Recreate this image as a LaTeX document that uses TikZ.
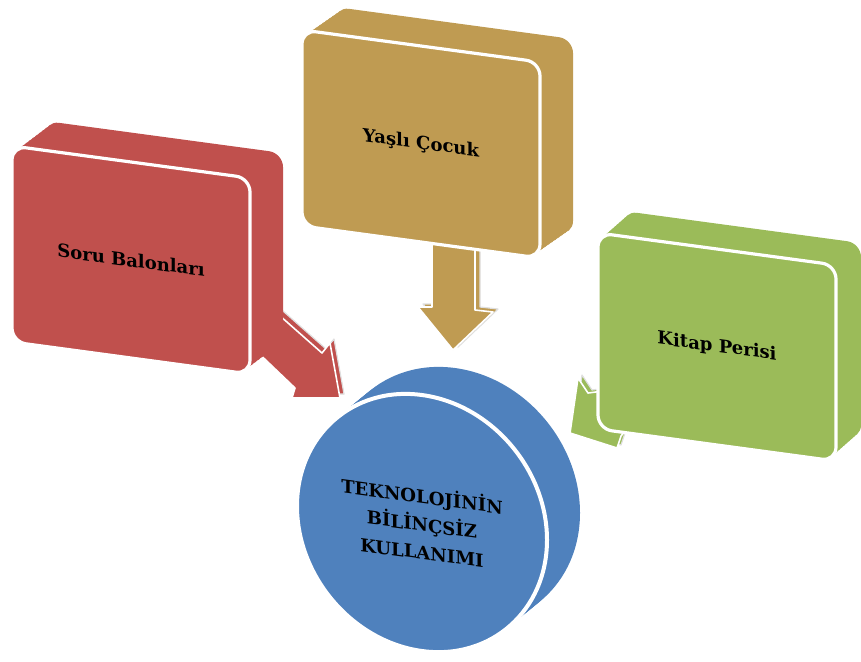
\documentclass[tikz,border=0pt]{standalone}
\usepackage{fontspec}
\setmainfont{DejaVu Serif}
\usetikzlibrary{shapes.geometric}

\definecolor{soruRed}{HTML}{C0504D}
\definecolor{yasliGold}{HTML}{BF9B52}
\definecolor{kitapGreen}{HTML}{9BBB59}
\definecolor{merkezBlue}{HTML}{4F81BD}

\tikzset{
  slab/.style={rectangle, rounded corners=7pt, minimum width=119pt, minimum height=98pt,
    inner sep=0pt, yslant=-0.135},
  face/.style={slab, draw=white, line width=1.6pt, font=\bfseries\fontsize{9}{11}\selectfont},
  disc/.style={ellipse, minimum width=125pt, minimum height=128pt, inner sep=0pt, yslant=-0.135},
  arrowback/.style={draw=gray!25, line width=0.6pt, line join=round},
  arrowfront/.style={draw=white, line width=0.8pt, line join=round},
}

\begin{document}
\begin{tikzpicture}[x=0.5pt, y=-0.5pt]
  \useasboundingbox (0,0) rectangle (861,661);

  % block arrows (under the boxes)
  \fill [soruRed, arrowback, shift={(4,-4)}] (262,300) -- (322,353) -- (330,343) -- (340,398)
    -- (292,398) -- (295,388) -- (250,345) -- cycle;
  \fill [soruRed, arrowfront] (262,300) -- (322,353) -- (330,343) -- (340,398)
    -- (292,398) -- (295,388) -- (250,345) -- cycle;

  \fill [yasliGold, arrowback, shift={(5,-3)}] (432,240) -- (475,240) -- (475,310) -- (493,312)
    -- (453,350) -- (418,307) -- (432,307) -- cycle;
  \fill [yasliGold, arrowfront] (432,240) -- (475,240) -- (475,310) -- (493,312)
    -- (453,350) -- (418,307) -- (432,307) -- cycle;

  \fill [kitapGreen, arrowback, shift={(4,-3)}] (578,378) -- (588,393) -- (650,385) -- (650,400)
    -- (621,436) -- (617,448) -- (570,433) -- cycle;
  \fill [kitapGreen, arrowfront] (578,378) -- (588,393) -- (650,385) -- (650,400)
    -- (621,436) -- (617,448) -- (570,433) -- cycle;

  % boxes
  \foreach \i in {10,9,...,1}
    \node (soruback\i) [slab, fill=soruRed] at ({131+3.3*\i},{260-2.5*\i}) {};
  \node (soru) [face, fill=soruRed] at (131,260) {Soru Balonları};

  \foreach \i in {10,9,...,1}
    \node (yasliback\i) [slab, fill=yasliGold] at ({421+3.3*\i},{144-2.3*\i}) {};
  \node (yasli) [face, fill=yasliGold] at (421,144) {Yaşlı Çocuk};

  \foreach \i in {10,9,...,1}
    \node (kitapback\i) [slab, fill=kitapGreen] at ({717+2.5*\i},{347-2.2*\i}) {};
  \node (kitap) [face, fill=kitapGreen] at (717,347) {Kitap Perisi};

  % centre disc
  \foreach \i in {10,9,...,1}
    \node (merkezback\i) [disc, fill=merkezBlue] at ({422+3.3*\i},{523-2.7*\i}) {};
  \node (merkez) [disc, fill=merkezBlue, draw=white, line width=2pt, align=center,
    font=\bfseries\fontsize{9}{14}\selectfont] at (422,523)
    {TEKNOLOJİNİN\\BİLİNÇSİZ\\KULLANIMI};
\end{tikzpicture}
\end{document}
